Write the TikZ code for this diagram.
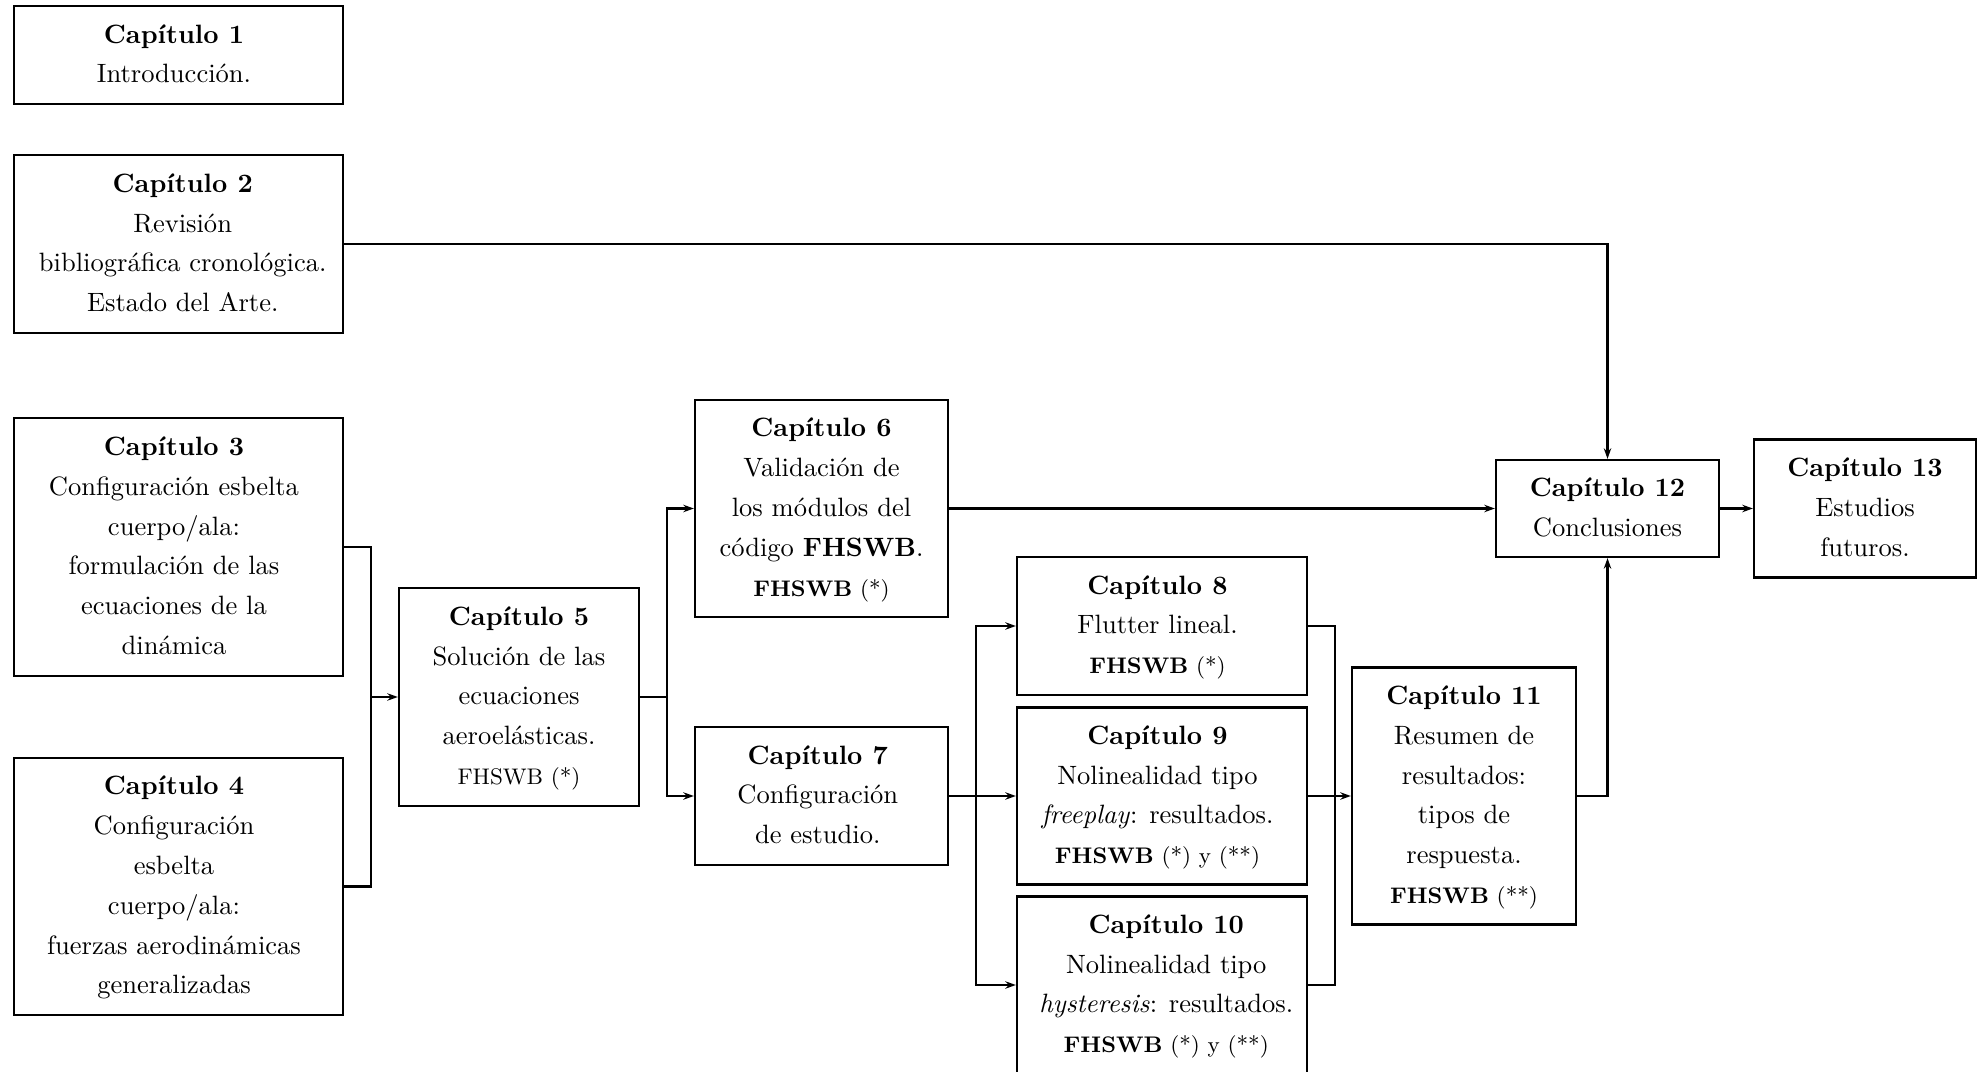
\documentclass[tikz,border=0pt]{standalone}
\usetikzlibrary{arrows.meta}
\begin{document}
\begin{tikzpicture}[x=0.377pt,y=-0.377pt,
  box/.style={draw,line width=0.85pt,inner sep=0pt,
    font=\fontsize{10}{15}\selectfont},
  dims/.style 2 args={minimum width={#1*0.377pt},minimum height={#2*0.377pt}},
  ln/.style={line width=0.85pt},
  arr/.style={ln,-{Stealth[length=4pt,width=2.8pt]}}]
\newcommand{\smallline}[1]{{\fontsize{8.5}{15}\selectfont #1}}
\newcommand{\tbx}[2]{\kern#1\begin{tabular}{@{}c@{}}#2\end{tabular}\kern-#1}
\useasboundingbox (0,0) rectangle (1980,1072);

\node[box,dims={329}{98}] (c1) at (178.5,55) {\tbx{-1.7pt}{\textbf{Capítulo 1}\\Introducción.}};
\node[box,dims={329}{178}] (c2) at (178.5,244) {\tbx{1.6pt}{\textbf{Capítulo 2}\\Revisión\\bibliográfica cronológica.\\Estado del Arte.}};
\node[box,dims={329}{258}] (c3) at (178.5,547) {\tbx{-1.7pt}{\textbf{Capítulo 3}\\Configuración esbelta\\cuerpo/ala:\\formulación de las\\ecuaciones de la\\dinámica}};
\node[box,dims={329}{257}] (c4) at (178.5,886.5) {\tbx{-1.7pt}{\textbf{Capítulo 4}\\Configuración\\esbelta\\cuerpo/ala:\\fuerzas aerodinámicas\\generalizadas}};
\node[box,dims={240}{218}] (c5) at (519,697) {\tbx{0pt}{\textbf{Capítulo 5}\\Solución de las\\ecuaciones\\aeroelásticas.\\\smallline{FHSWB (*)}}};
\node[box,dims={253}{217}] (c6) at (821.5,508.5) {\tbx{0pt}{\textbf{Capítulo 6}\\Validación de\\los módulos del\\código \textbf{FHSWB}.\\\smallline{\textbf{FHSWB} (*)}}};
\node[box,dims={253}{138}] (c7) at (821.5,796) {\tbx{-1.4pt}{\textbf{Capítulo 7}\\Configuración\\de estudio.}};
\node[box,dims={290}{138}] (c8) at (1162,626) {\tbx{-1.7pt}{\textbf{Capítulo 8}\\Flutter lineal.\\\smallline{\textbf{FHSWB} (*)}}};
\node[box,dims={290}{177}] (c9) at (1162,796) {\tbx{-1.7pt}{\textbf{Capítulo 9}\\Nolinealidad tipo\\\textit{freeplay}: resultados.\\\smallline{\textbf{FHSWB} (*) y (**)}}};
\node[box,dims={290}{177}] (c10) at (1162,985) {\tbx{1.6pt}{\textbf{Capítulo 10}\\Nolinealidad tipo\\\textit{hysteresis}: resultados.\\\smallline{\textbf{FHSWB} (*) y (**)}}};
\node[box,dims={224}{257}] (c11) at (1464,796) {\tbx{0pt}{\textbf{Capítulo 11}\\Resumen de\\resultados:\\tipos de\\respuesta.\\\smallline{\textbf{FHSWB} (**)}}};
\node[box,dims={223}{97}] (c12) at (1607.5,508.5) {\tbx{0pt}{\textbf{Capítulo 12}\\Conclusiones}};
\node[box,dims={222}{138}] (c13) at (1865,508.5) {\tbx{0pt}{\textbf{Capítulo 13}\\Estudios\\futuros.}};

\coordinate (m34) at (371,697);
\coordinate (s5) at (667,697);
\coordinate (s7) at (976,796);
\coordinate (m810) at (1335,796);

\draw[arr] (c2.east) -| (c12.north);
\draw[ln] (c3.east) -| (m34) |- (c4.east);
\draw[arr] (m34) -- (c5.west);
\draw[ln] (c5.east) -- (s5);
\draw[arr] (s5) |- (c6.west);
\draw[arr] (s5) |- (c7.west);
\draw[arr] (c6.east) -- (c12.west);
\draw[ln] (c7.east) -- (s7);
\draw[arr] (s7) |- (c8.west);
\draw[arr] (s7) -- (c9.west);
\draw[arr] (s7) |- (c10.west);
\draw[ln] (c8.east) -| (m810) |- (c10.east);
\draw[ln] (c9.east) -- (m810);
\draw[arr] (m810) -- (c11.west);
\draw[arr] (c11.east) -| (c12.south);
\draw[arr] (c12.east) -- (c13.west);
\end{tikzpicture}
\end{document}
